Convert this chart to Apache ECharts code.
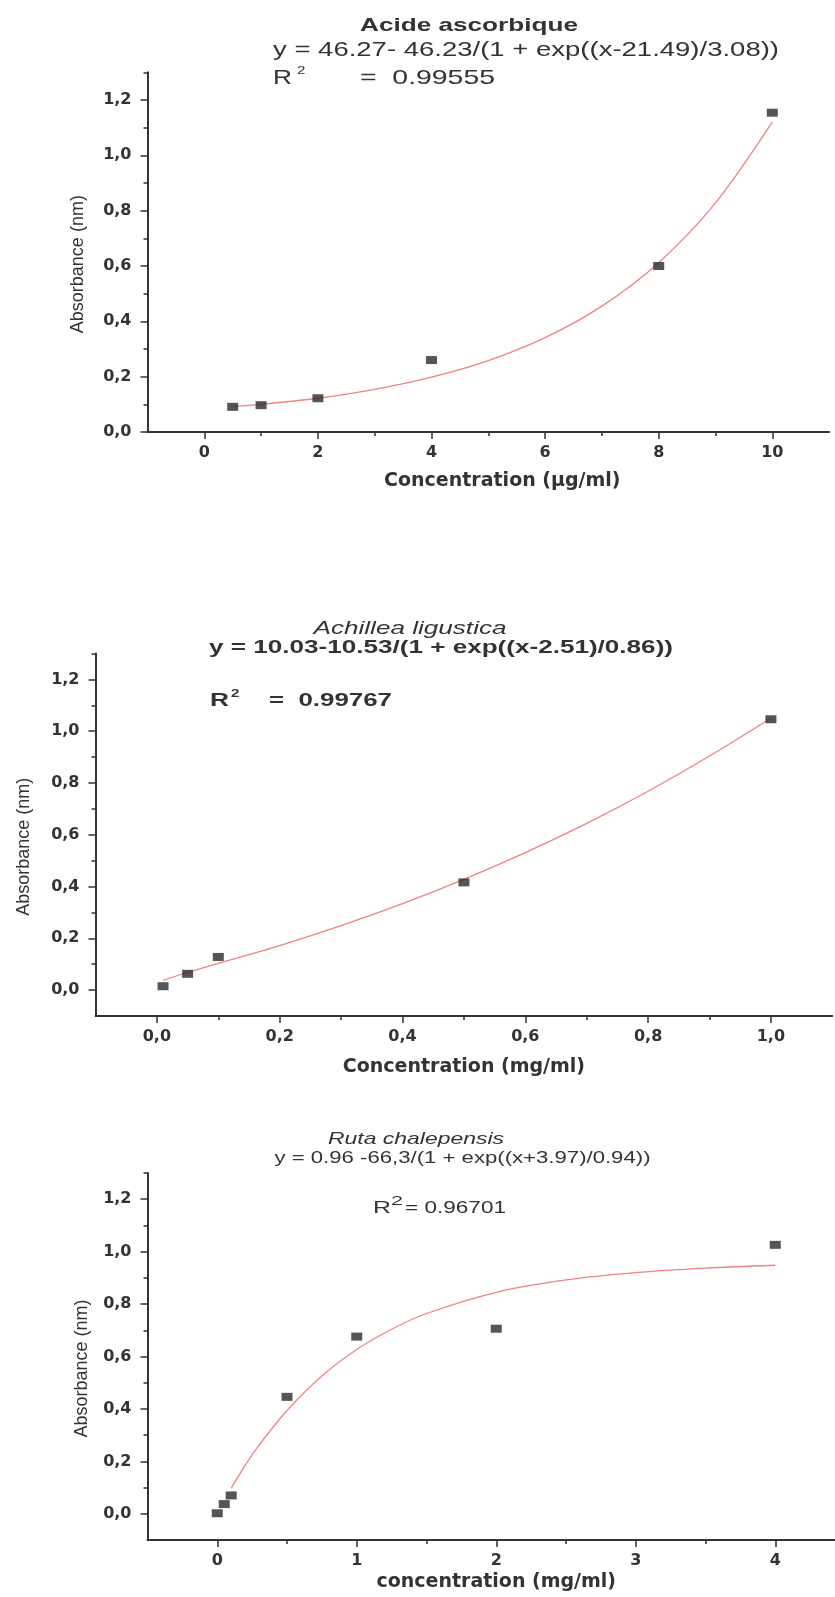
<!DOCTYPE html>
<html>
<head>
<meta charset="utf-8">
<title>Absorbance en fonction de la concentration</title>
<script src="https://cdn.jsdelivr.net/npm/echarts@6/dist/echarts.min.js"></script>
<style>
  html, body { margin: 0; padding: 0; background: #fff; }
  #chart { width: 835px; height: 1597px; }
</style>
</head>
<body>
<div id="chart"></div>
<script>
// --- Acide ascorbique (µg/ml)
const ascX = [0.5, 1, 2, 4, 8, 10];
const ascY = [0.091, 0.097, 0.122, 0.26, 0.60, 1.154];
const ascFitX = [0.5, 1, 2, 3, 4, 5, 6, 7, 8, 9, 10];
const ascFitY = [0.092, 0.10, 0.122, 0.154, 0.198, 0.258, 0.341, 0.455, 0.612, 0.828, 1.12];
const ascXTicks = [0, 2, 4, 6, 8, 10];
const ascXMinor = [1, 3, 5, 7, 9];

// --- Achillea ligustica (mg/ml)
const achX = [0.01, 0.05, 0.1, 0.5, 1.0];
const achY = [0.015, 0.063, 0.128, 0.416, 1.046];
const achFitX = [0.01, 0.05, 0.1, 0.2, 0.3, 0.4, 0.5, 0.6, 0.7, 0.8, 0.9, 1.0];
const achFitY = [0.038, 0.068, 0.103, 0.172, 0.249, 0.334, 0.428, 0.531, 0.644, 0.768, 0.904, 1.05];
const achXTicks = [0, 0.2, 0.4, 0.6, 0.8, 1.0];
const achXMinor = [0.1, 0.3, 0.5, 0.7, 0.9];

// --- Ruta chalepensis (mg/ml)
const rutX = [0, 0.05, 0.1, 0.5, 1, 2, 4];
const rutY = [0.002, 0.037, 0.07, 0.446, 0.676, 0.706, 1.026];
const rutFitX = [0.1, 0.2, 0.3, 0.5, 0.75, 1, 1.25, 1.5, 2, 2.5, 3, 3.5, 4];
const rutFitY = [0.098, 0.185, 0.262, 0.394, 0.526, 0.627, 0.704, 0.764, 0.845, 0.892, 0.92, 0.937, 0.948];
const rutXTicks = [0, 1, 2, 3, 4];
const rutXMinor = [0.5, 1.5, 2.5, 3.5];

// shared absorbance ticks
const yTicks = [0, 0.2, 0.4, 0.6, 0.8, 1.0, 1.2];
const yMinor = [0.1, 0.3, 0.5, 0.7, 0.9, 1.1, 1.3];

const INK = '#333333';
const SANS = "'Liberation Sans', Arial, sans-serif";
const LABEL_FONT = "'DejaVu Sans', Verdana, sans-serif";

const fmt1 = v => v.toFixed(1).replace('.', ',');
const fmt0 = v => String(Math.round(v));
const zip = (xs, ys) => xs.map((x, i) => [x, ys[i]]);

// the scanned figure is stretched sideways, so texts are widened to their measured width
const measure = document.createElement('canvas').getContext('2d');
function text(str, x, y, font, width, align) {
  measure.font = font;
  const w = measure.measureText(str).width;
  return {
    type: 'text', x: x, y: y, scaleX: width ? width / w : 1.37,
    style: { text: str, font: font, fill: INK, textAlign: align || 'left', textVerticalAlign: 'middle' }
  };
}

function axisPair(dim, grid, min, max, step, majors, minors, fmt, name, nameGap, extra) {
  const pos = dim === 'x' ? 'bottom' : 'left';
  const main = {
    type: 'value', gridIndex: grid, position: pos, min: min, max: max, interval: step,
    axisLine: { show: true, onZero: false, lineStyle: { color: INK, width: 2 } },
    axisTick: { show: true, customValues: majors, length: 7, lineStyle: { color: INK, width: 1.5 } },
    axisLabel: {
      customValues: majors, formatter: fmt, margin: dim === 'x' ? 13 : 16,
      color: INK, fontFamily: LABEL_FONT, fontWeight: 'bold', fontSize: 16
    },
    splitLine: { show: false },
    name: name, nameLocation: 'middle', nameGap: nameGap,
    nameTextStyle: dim === 'x'
      ? { fontFamily: LABEL_FONT, fontWeight: 'bold', fontSize: 19, color: INK }
      : { fontFamily: SANS, fontSize: 18, color: INK, padding: [0, 24, 0, 0] }
  };
  if (extra) Object.assign(main.nameTextStyle, extra);
  const minor = {
    type: 'value', gridIndex: grid, position: pos, min: min, max: max, interval: step,
    axisLine: { show: false, onZero: false },
    axisTick: { show: true, customValues: minors, length: 4, lineStyle: { color: INK, width: 1.5 } },
    axisLabel: { show: false },
    splitLine: { show: false }
  };
  return [main, minor];
}

function fitLine(xi, yi, xs, ys) {
  return {
    type: 'line', xAxisIndex: xi, yAxisIndex: yi, data: zip(xs, ys), smooth: 0.3,
    symbol: 'none', lineStyle: { color: '#f08282', width: 1.3 }, z: 2
  };
}
function points(xi, yi, xs, ys) {
  return {
    type: 'scatter', xAxisIndex: xi, yAxisIndex: yi, data: zip(xs, ys),
    symbol: 'rect', symbolSize: [11, 8], itemStyle: { color: '#2b2b2b' }, z: 3
  };
}

const chart = echarts.init(document.getElementById('chart'), null, { renderer: 'canvas' });
chart.setOption({
  backgroundColor: '#ffffff',
  animation: false,
  grid: [
    { left: 147.5, top: 72.3, width: 681.6, height: 359.7, outerBoundsMode: 'none' },
    { left: 95.5, top: 653.5, width: 736.8, height: 362.5, outerBoundsMode: 'none' },
    { left: 147.5, top: 1173, width: 697.5, height: 367, outerBoundsMode: 'none' }
  ],
  xAxis: [].concat(
    axisPair('x', 0, -1, 11, 1, ascXTicks, ascXMinor, fmt0, 'Concentration (µg/ml)', 40, { padding: [0, 0, 0, 28] }),
    axisPair('x', 1, -0.1, 1.1, 0.1, achXTicks, achXMinor, fmt1, 'Concentration (mg/ml)', 42),
    axisPair('x', 2, -0.5, 4.5, 0.5, rutXTicks, rutXMinor, fmt0, 'concentration (mg/ml)', 33)
  ),
  yAxis: [].concat(
    axisPair('y', 0, 0, 1.3, 0.1, yTicks, yMinor, fmt1, 'Absorbance (nm)', 60),
    axisPair('y', 1, -0.1, 1.3, 0.1, yTicks, yMinor, fmt1, 'Absorbance (nm)', 62),
    axisPair('y', 2, -0.1, 1.3, 0.1, yTicks, yMinor, fmt1, 'Absorbance (nm)', 56)
  ),
  series: [
    fitLine(0, 0, ascFitX, ascFitY), points(0, 0, ascX, ascY),
    fitLine(2, 2, achFitX, achFitY), points(2, 2, achX, achY),
    fitLine(4, 4, rutFitX, rutFitY), points(4, 4, rutX, rutY)
  ],
  graphic: [
    text('Acide ascorbique', 469, 26, 'bold 19px ' + SANS, 218, 'center'),
    text('y = 46.27- 46.23/(1 + exp((x-21.49)/3.08))', 273, 50, '20px ' + SANS, 506),
    text('R', 273, 78, '20px ' + SANS, 19),
    text('2', 297, 71, '11px ' + SANS),
    text('=  0.99555', 360, 78, '21px ' + SANS, 135),

    text('Achillea ligustica', 410, 629, 'italic 19px ' + SANS, 193, 'center'),
    text('y = 10.03-10.53/(1 + exp((x-2.51)/0.86))', 209, 648, 'bold 19px ' + SANS, 464),
    text('R', 210, 701, 'bold 19px ' + SANS, 19),
    text('2', 231, 694, 'bold 11px ' + SANS),
    text('=  0.99767', 269, 701, 'bold 19px ' + SANS, 123),

    text('Ruta chalepensis', 416, 1139, 'italic 17px ' + SANS, 176, 'center'),
    text('y = 0.96 -66,3/(1 + exp((x+3.97)/0.94))', 274.5, 1159, '16px ' + SANS, 376),
    text('R', 373, 1208, '17px ' + SANS, 18),
    text('2', 391, 1201, '13px ' + SANS, 12),
    text('= 0.96701', 405, 1208, '17px ' + SANS, 101)
  ]
});
</script>
</body>
</html>
